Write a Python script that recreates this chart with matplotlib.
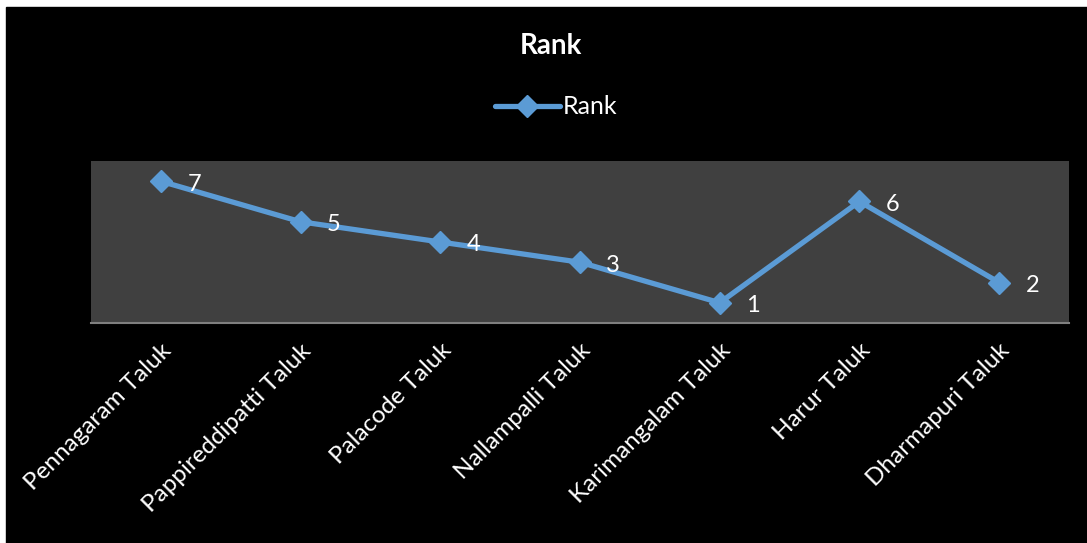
import matplotlib.pyplot as plt
from matplotlib.patches import Rectangle

# ranks per taluk
taluks = ["Pennagaram Taluk", "Pappireddipatti Taluk", "Palacode Taluk",
          "Nallampalli Taluk", "Karimangalam Taluk", "Harur Taluk",
          "Dharmapuri Taluk"]
rank = [7, 5, 4, 3, 1, 6, 2]

plt.rcParams["font.family"] = ["Lato", "DejaVu Sans"]

fig = plt.figure(figsize=(10.87, 5.43), dpi=100, facecolor="white")
# black chart area, with a thin white margin at top and left
fig.patches.append(Rectangle((6 / 1087, 0), 1, 1 - 7 / 543,
                             transform=fig.transFigure, color="black", zorder=-5))

ax = fig.add_axes([91 / 1087, 1 - 323 / 543, 978 / 1087, 162 / 543])
ax.set_facecolor("#404040")

x = list(range(len(taluks)))
ax.plot(x, rank, color="#5B9BD5", lw=3.8, marker="D", markersize=11,
        solid_capstyle="round", label="Rank", zorder=3)
for xi, r in zip(x, rank):
    ax.annotate(str(r), (xi, r), xytext=(24, -2), textcoords="offset points",
                ha="center", va="center", color="white", fontsize=17)

ax.set_xlim(-0.5, len(taluks) - 0.5)
ax.set_ylim(0, 8)
ax.set_yticks([])
ax.set_xticks(x)
ax.set_xticklabels(taluks, rotation=45, ha="right", rotation_mode="anchor",
                   color="white", fontsize=17.5)
ax.tick_params(axis="x", length=0, pad=12)
for s in ["top", "left", "right"]:
    ax.spines[s].set_visible(False)
ax.spines["bottom"].set_color("#7f7f7f")
ax.spines["bottom"].set_linewidth(1.5)

fig.text(551 / 1087, 1 - 46 / 543, "Rank", ha="center", va="center",
         color="white", fontsize=20, fontweight="bold")
leg = fig.legend(loc="center", bbox_to_anchor=(556 / 1087, 1 - 107 / 543),
                 frameon=False, fontsize=18, labelcolor="white",
                 handlelength=2.6, handletextpad=0.1)

fig.savefig("out.png", dpi=100, facecolor="white")
